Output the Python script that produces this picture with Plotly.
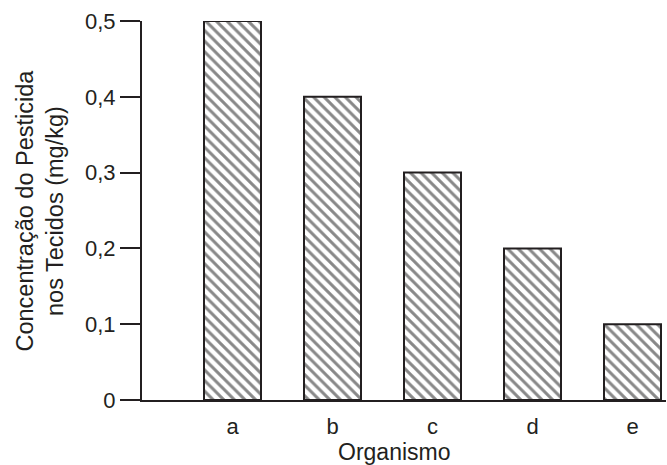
import plotly.graph_objects as go

categories = ["a", "b", "c", "d", "e"]
values = [0.5, 0.4, 0.3, 0.2, 0.1]
y_ticks = [0, 0.1, 0.2, 0.3, 0.4, 0.5]
y_tick_labels = ["0", "0,1", "0,2", "0,3", "0,4", "0,5"]

ink = "#231f20"
font = "Liberation Sans, Arial, sans-serif"

fig = go.Figure()
fig.add_trace(go.Bar(
    x=list(range(len(categories))),
    y=values,
    width=0.57,
    marker=dict(
        color="white",
        line=dict(color=ink, width=2),
        pattern=dict(shape="\\", size=7.5, solidity=0.4, fgcolor="#111111", bgcolor="white"),
    ),
    cliponaxis=False,
    hoverinfo="skip",
))

fig.update_layout(
    width=667, height=465,
    margin=dict(l=142, r=1, t=21, b=65),
    paper_bgcolor="white", plot_bgcolor="white",
    showlegend=False,
    font=dict(family=font, size=22, color=ink),
    xaxis=dict(
        range=[-0.905, 4.335],
        tickvals=list(range(len(categories))),
        ticktext=categories,
        showgrid=False, zeroline=False,
        showline=True, linecolor=ink, linewidth=2,
        ticks="", ticklabelstandoff=6,
        tickfont=dict(size=22),
    ),
    yaxis=dict(
        range=[0, 0.5],
        tickvals=y_ticks,
        ticktext=y_tick_labels,
        showgrid=False, zeroline=False,
        showline=True, linecolor=ink, linewidth=2,
        ticks="outside", ticklen=20, tickwidth=2, tickcolor=ink,
        tickfont=dict(size=22),
    ),
    annotations=[
        dict(
            text="Organismo", xref="paper", yref="paper",
            x=0.481, y=0, yshift=-52, yanchor="middle", showarrow=False,
            font=dict(size=23, color=ink),
        ),
        dict(
            text="Concentração do Pesticida<br>nos Tecidos (mg/kg)", xref="paper", yref="paper",
            x=0, xshift=-102, y=0.5, xanchor="center", yanchor="middle", textangle=-90,
            showarrow=False, font=dict(size=23.5, color=ink),
        ),
    ],
)

fig.write_html(
    "out.html",
    config={"displayModeBar": False},
    post_script="document.body.style.margin='0';document.body.style.overflow='hidden';",
)
